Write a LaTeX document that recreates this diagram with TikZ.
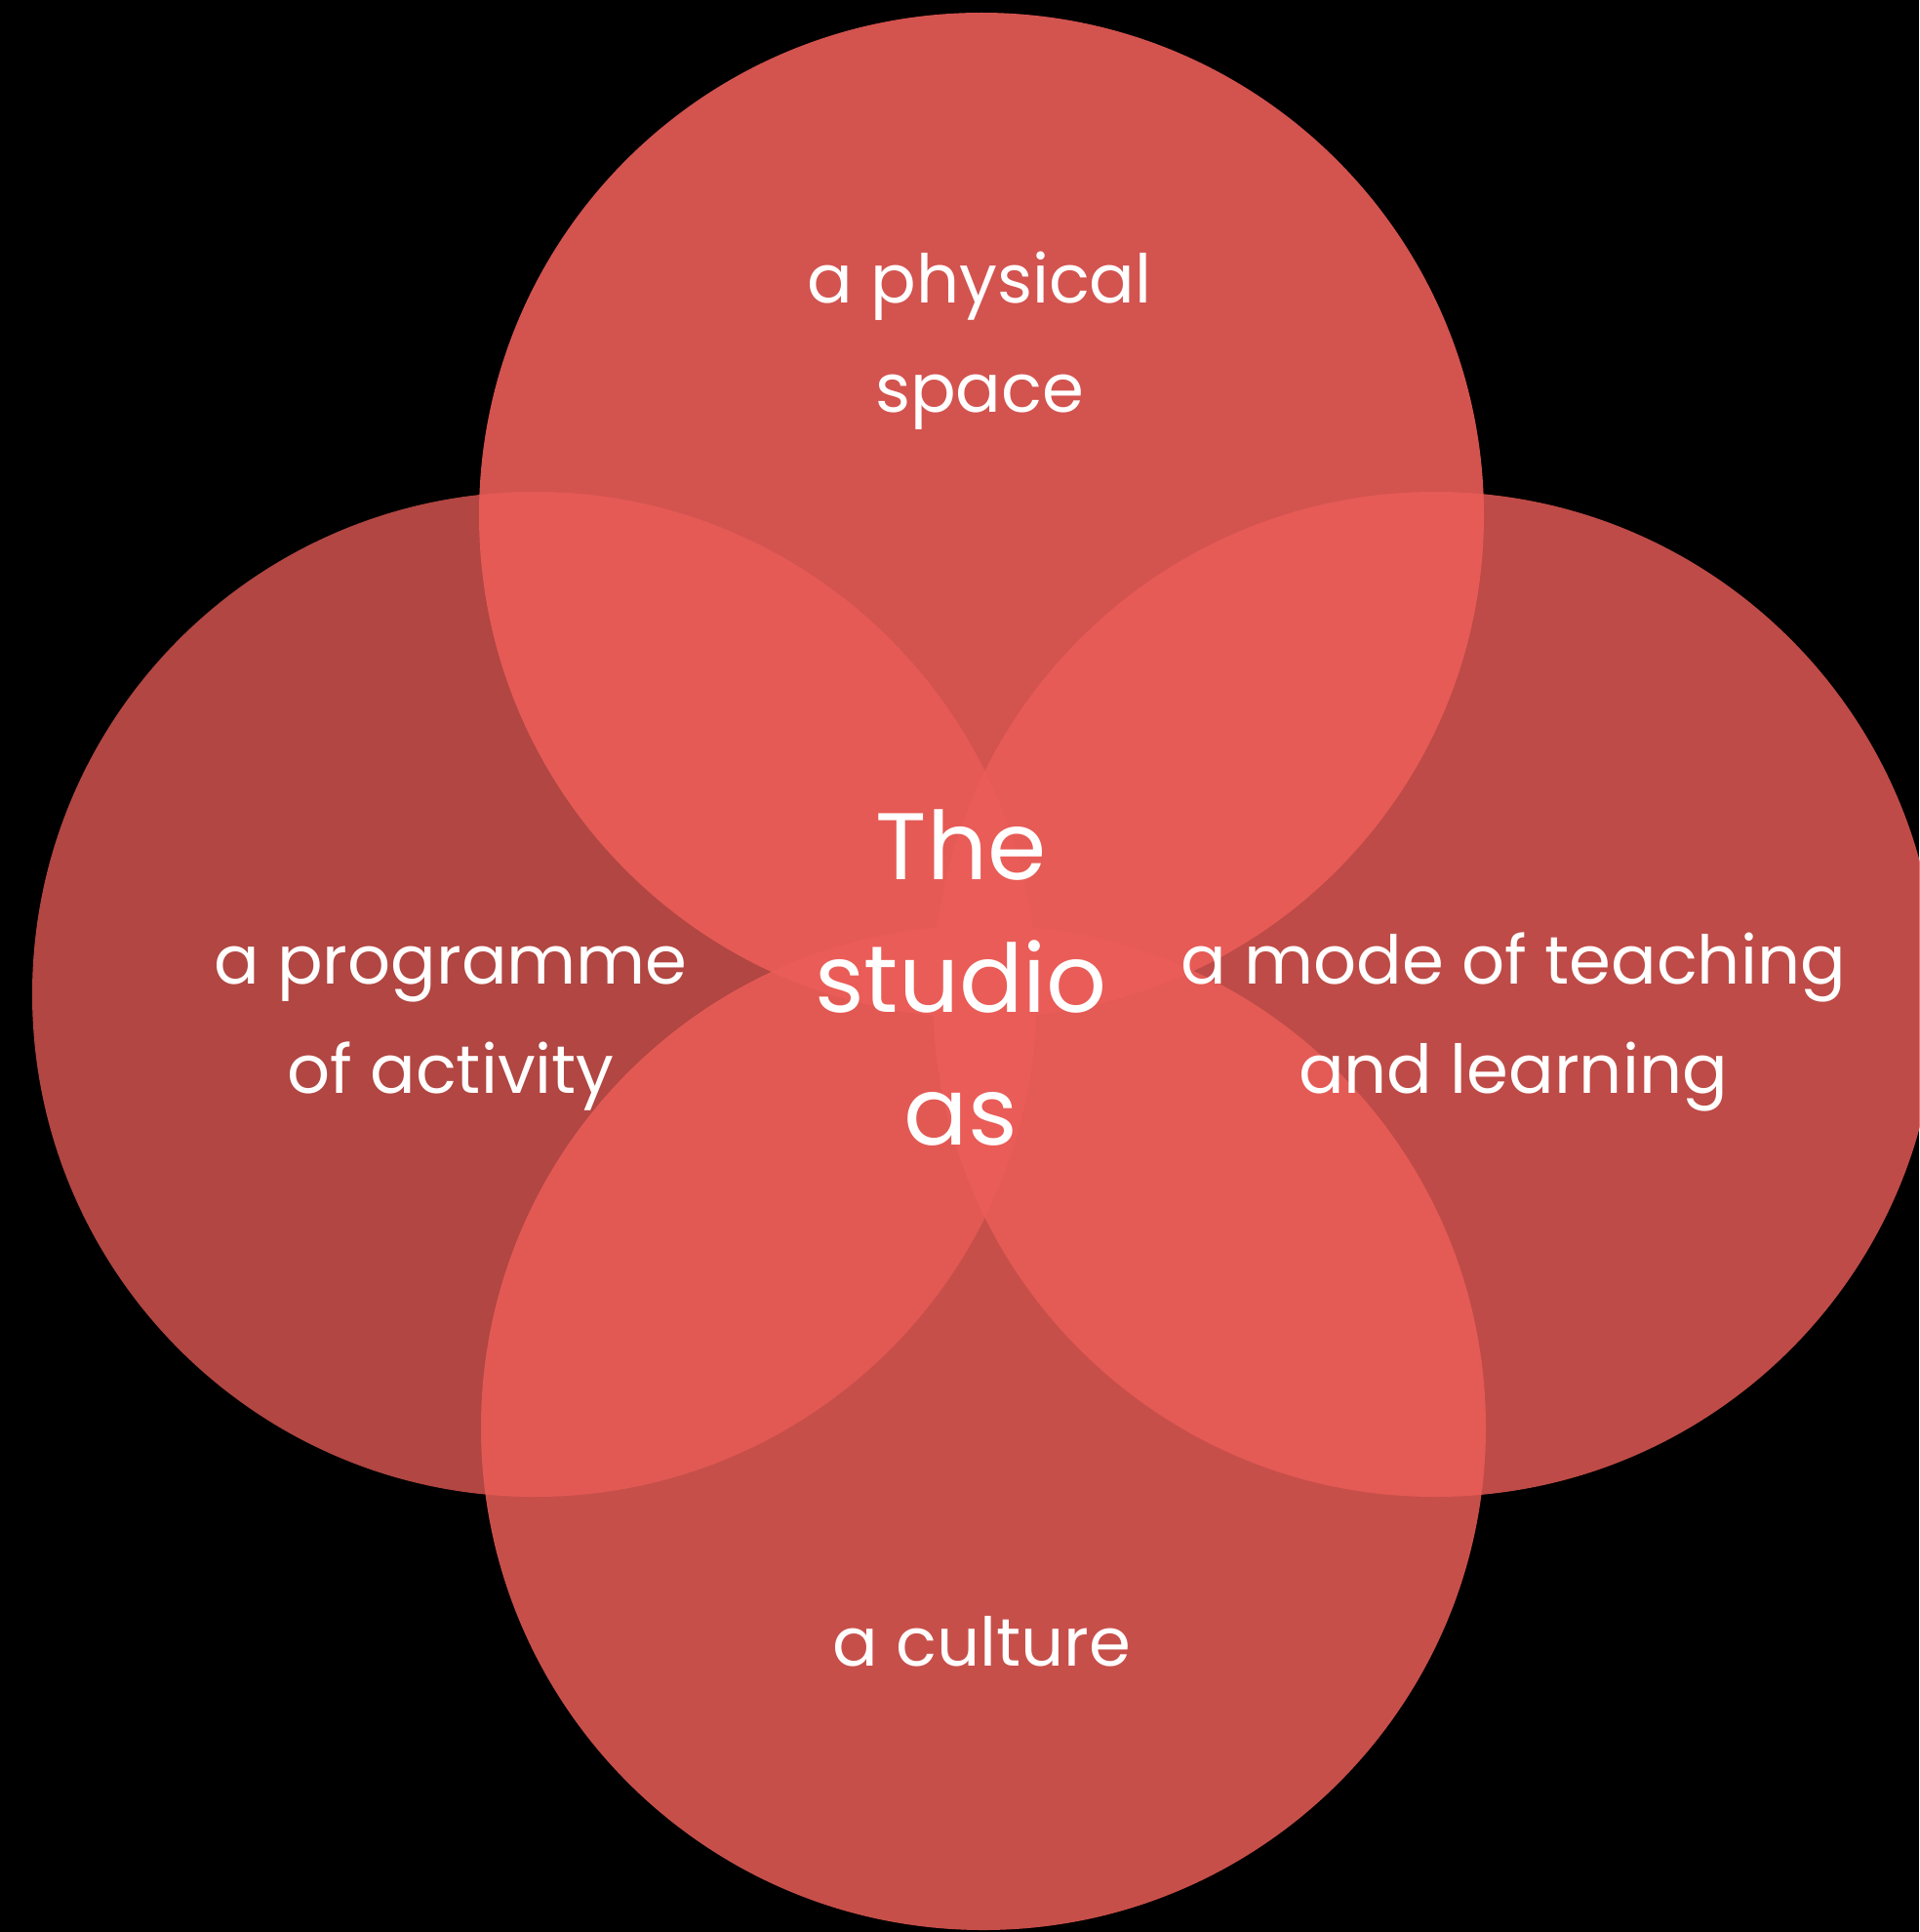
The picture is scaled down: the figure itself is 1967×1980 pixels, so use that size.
\documentclass[tikz,border=0pt]{standalone}
\usepackage{fontspec}
\setmainfont{Poppins}
\definecolor{circ}{RGB}{235,93,88}
\begin{document}
\begin{tikzpicture}[x=1pt,y=-1pt,
  lbl/.style={text=white,align=center,inner sep=0pt,anchor=base,font=\fontsize{69}{112}\selectfont},
  ctr/.style={text=white,align=center,inner sep=0pt,anchor=base,font=\fontsize{97}{136}\selectfont}]
\fill[black] (0,0) rectangle (1967,1980);
\useasboundingbox (0,0) rectangle (1967,1980);
\fill[circ,fill opacity=0.757] (548,1019) circle[radius=515pt];
\fill[circ,fill opacity=0.81] (1471,1019) circle[radius=515pt];
\fill[circ,fill opacity=0.85] (1008,1463) circle[radius=515pt];
\fill[circ,fill opacity=0.90] (1006,528) circle[radius=515pt];
\node[lbl] (top) at (1004,422) {a physical\\space};
\node[lbl] (left) at (462,1120) {a programme\\of activity};
\node[lbl] (right) at (1551,1120) {a mode of teaching\\and learning};
\node[lbl] (bottom) at (1006,1707) {a culture};
\node[ctr] (center) at (985,1173) {The\\studio\\as};
\end{tikzpicture}
\end{document}
